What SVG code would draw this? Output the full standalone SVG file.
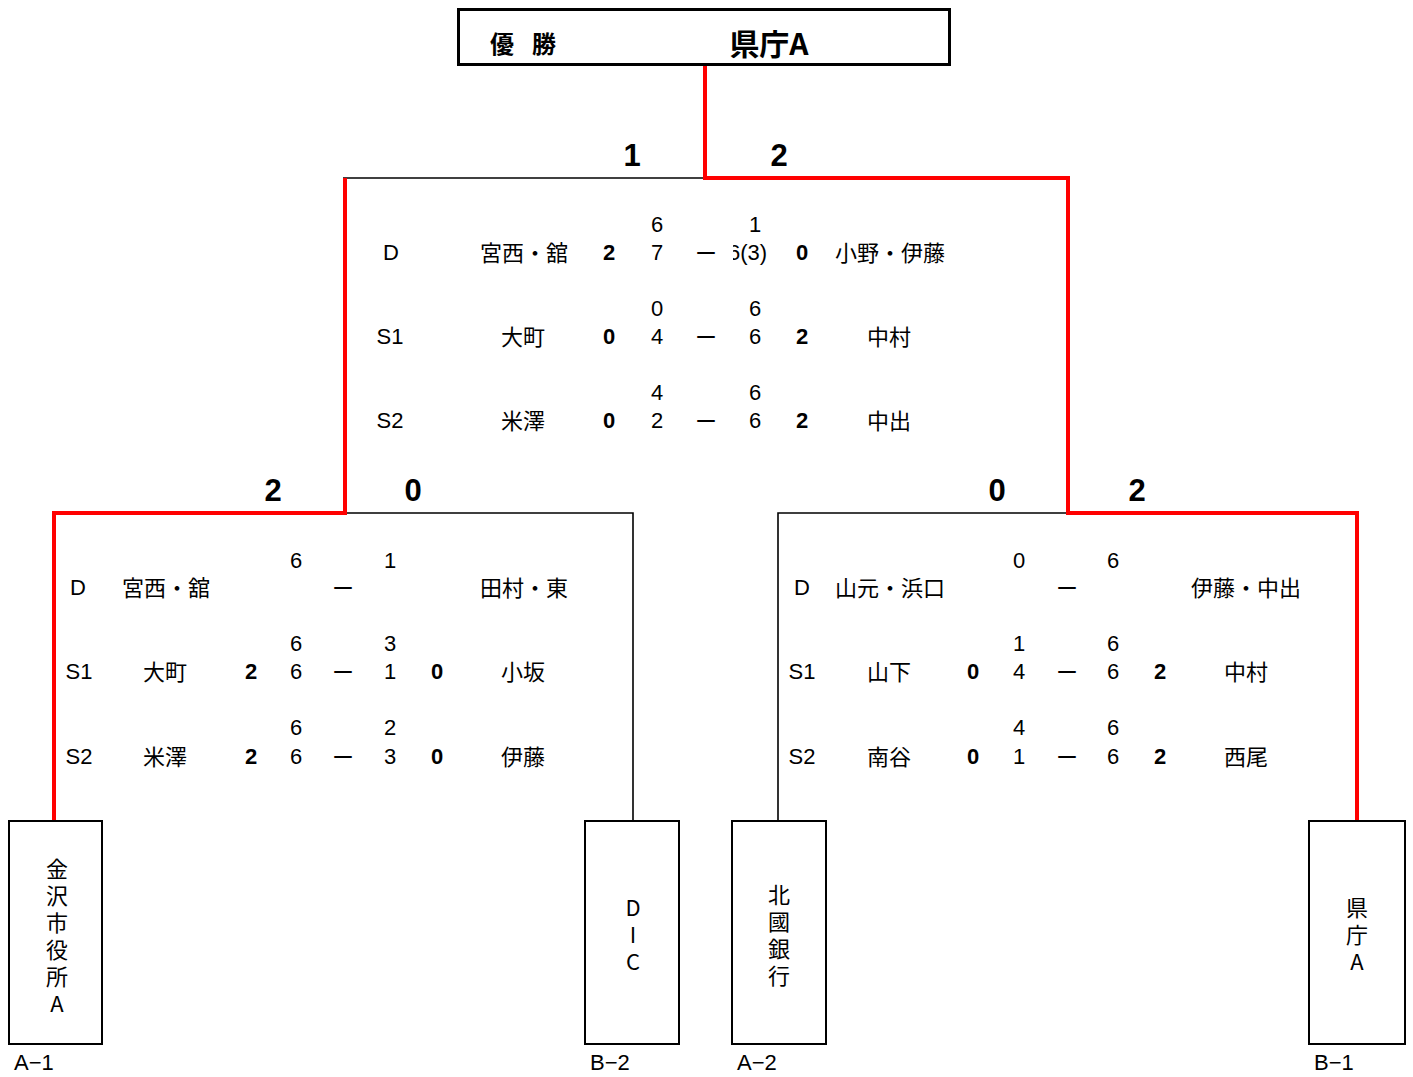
<svg xmlns="http://www.w3.org/2000/svg" width="1413" height="1077" viewBox="0 0 1413 1077">
<style>
text{font-family:"Liberation Sans","Noto Sans CJK JP",sans-serif;fill:#000;dominant-baseline:central;text-anchor:middle}
.j{font-family:"Noto Sans CJK JP","Liberation Sans",sans-serif;font-size:22px}
.n{font-size:22px}
.b{font-size:22px;font-weight:bold}
.big{font-size:31px;font-weight:bold}
.lab{font-size:22px;text-anchor:start}
.v{font-family:"Noto Sans CJK JP","Liberation Sans",sans-serif;font-size:22px;writing-mode:vertical-rl;text-orientation:upright;letter-spacing:5px}
.box{fill:#fff;stroke:#000;stroke-width:2}
.red{fill:none;stroke:#ff0000;stroke-width:4}
.blk{fill:none;stroke:#000;stroke-width:1.6}
</style>
<defs>
<clipPath id="clip63"><rect x="733" y="230" width="80" height="44"/></clipPath>
</defs>
<rect width="1413" height="1077" fill="#fff"/>

<g id="connectors">
<polyline class="blk" points="343,178 705,178"/>
<polyline class="blk" points="343,513 633,513 633,821"/>
<polyline class="blk" points="1068,513 778,513 778,821"/>
<polyline class="red" points="705,65 705,178 1068,178 1068,513 1357,513 1357,822"/>
<polyline class="red" points="345,178 345,513 54,513 54,822"/>
</g>

<g id="champion">
<rect x="458.5" y="9.5" width="491" height="55" fill="#fff" stroke="#000" stroke-width="3"/>
<text x="502" y="42" style="font-family:'Noto Sans CJK JP',sans-serif;font-size:24px;font-weight:bold">優</text>
<text x="544" y="42" style="font-family:'Noto Sans CJK JP',sans-serif;font-size:24px;font-weight:bold">勝</text>
<text x="769" y="42" style="font-family:'Noto Sans CJK JP',sans-serif;font-size:30px;font-weight:bold">県庁A</text>
</g>

<g id="final-scores">
<text class="big" x="632" y="155">1</text>
<text class="big" x="779" y="155">2</text>
<text class="big" x="273" y="490">2</text>
<text class="big" x="413" y="490">0</text>
<text class="big" x="997" y="490">0</text>
<text class="big" x="1137" y="490">2</text>
</g>

<g id="match-final">
<text class="n" x="391" y="252">D</text>
<text class="j" x="524" y="251">宮西・舘</text>
<text class="b" x="609" y="252">2</text>
<text class="n" x="657" y="224">6</text>
<text class="n" x="657" y="252">7</text>
<text class="j" x="706" y="251">ー</text>
<text class="n" x="755" y="224">1</text>
<g clip-path="url(#clip63)"><text class="n" x="728" y="252" style="text-anchor:start">6(3)</text></g>
<text class="b" x="802" y="252">0</text>
<text class="j" x="890" y="251">小野・伊藤</text>

<text class="n" x="390" y="336">S1</text>
<text class="j" x="523" y="335">大町</text>
<text class="b" x="609" y="336">0</text>
<text class="n" x="657" y="308">0</text>
<text class="n" x="657" y="336">4</text>
<text class="j" x="706" y="335">ー</text>
<text class="n" x="755" y="308">6</text>
<text class="n" x="755" y="336">6</text>
<text class="b" x="802" y="336">2</text>
<text class="j" x="889" y="335">中村</text>

<text class="n" x="390" y="420">S2</text>
<text class="j" x="523" y="419">米澤</text>
<text class="b" x="609" y="420">0</text>
<text class="n" x="657" y="392">4</text>
<text class="n" x="657" y="420">2</text>
<text class="j" x="706" y="419">ー</text>
<text class="n" x="755" y="392">6</text>
<text class="n" x="755" y="420">6</text>
<text class="b" x="802" y="420">2</text>
<text class="j" x="889" y="419">中出</text>
</g>

<g id="match-left">
<text class="n" x="78" y="587">D</text>
<text class="j" x="166" y="586">宮西・舘</text>
<text class="n" x="296" y="560">6</text>
<text class="j" x="343" y="586">ー</text>
<text class="n" x="390" y="560">1</text>
<text class="j" x="524" y="586">田村・東</text>

<text class="n" x="79" y="671">S1</text>
<text class="j" x="165" y="670">大町</text>
<text class="b" x="251" y="671">2</text>
<text class="n" x="296" y="643">6</text>
<text class="n" x="296" y="671">6</text>
<text class="j" x="343" y="670">ー</text>
<text class="n" x="390" y="643">3</text>
<text class="n" x="390" y="671">1</text>
<text class="b" x="437" y="671">0</text>
<text class="j" x="523" y="670">小坂</text>

<text class="n" x="79" y="756">S2</text>
<text class="j" x="165" y="755">米澤</text>
<text class="b" x="251" y="756">2</text>
<text class="n" x="296" y="727">6</text>
<text class="n" x="296" y="756">6</text>
<text class="j" x="343" y="755">ー</text>
<text class="n" x="390" y="727">2</text>
<text class="n" x="390" y="756">3</text>
<text class="b" x="437" y="756">0</text>
<text class="j" x="523" y="755">伊藤</text>
</g>

<g id="match-right">
<text class="n" x="802" y="587">D</text>
<text class="j" x="890" y="586">山元・浜口</text>
<text class="n" x="1019" y="560">0</text>
<text class="j" x="1067" y="586">ー</text>
<text class="n" x="1113" y="560">6</text>
<text class="j" x="1246" y="586">伊藤・中出</text>

<text class="n" x="802" y="671">S1</text>
<text class="j" x="889" y="670">山下</text>
<text class="b" x="973" y="671">0</text>
<text class="n" x="1019" y="643">1</text>
<text class="n" x="1019" y="671">4</text>
<text class="j" x="1067" y="670">ー</text>
<text class="n" x="1113" y="643">6</text>
<text class="n" x="1113" y="671">6</text>
<text class="b" x="1160" y="671">2</text>
<text class="j" x="1246" y="670">中村</text>

<text class="n" x="802" y="756">S2</text>
<text class="j" x="889" y="755">南谷</text>
<text class="b" x="973" y="756">0</text>
<text class="n" x="1019" y="727">4</text>
<text class="n" x="1019" y="756">1</text>
<text class="j" x="1067" y="755">ー</text>
<text class="n" x="1113" y="727">6</text>
<text class="n" x="1113" y="756">6</text>
<text class="b" x="1160" y="756">2</text>
<text class="j" x="1246" y="755">西尾</text>
</g>

<g id="team-kanazawa">
<rect class="box" x="9" y="821" width="93" height="223"/>
<text class="v" x="57" y="939">金沢市役所A</text>
<text class="lab" x="14" y="1062">A−1</text>
</g>

<g id="team-dic">
<rect class="box" x="585" y="821" width="94" height="223"/>
<text class="v" x="633" y="937">DIC</text>
<text class="lab" x="590" y="1062">B−2</text>
</g>

<g id="team-hokkoku">
<rect class="box" x="732" y="821" width="94" height="223"/>
<text class="v" x="779" y="938">北國銀行</text>
<text class="lab" x="737" y="1062">A−2</text>
</g>

<g id="team-kencho">
<rect class="box" x="1309" y="821" width="96" height="223"/>
<text class="v" x="1357" y="937">県庁A</text>
<text class="lab" x="1314" y="1062">B−1</text>
</g>
</svg>
